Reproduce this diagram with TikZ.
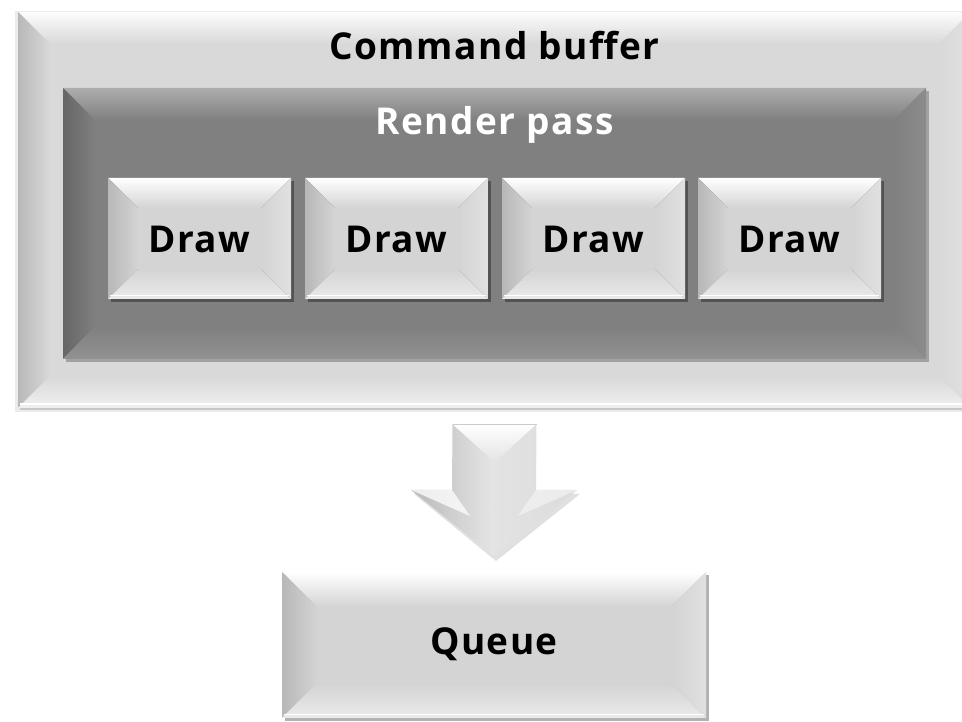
\documentclass[tikz,border=0pt]{standalone}
\usepackage{fontspec}
\setmainfont{Open Sans}[LetterSpace=4]
\usetikzlibrary{calc}

% grey levels of the bevelled facets
\definecolor{outFace}{gray}{0.85}
\definecolor{outTop}{gray}{0.99}
\definecolor{outLeft}{gray}{0.72}
\definecolor{outBot}{gray}{0.94}
\definecolor{outRight}{gray}{0.88}
\definecolor{inFace}{gray}{0.50}
\definecolor{inTop}{gray}{0.68}
\definecolor{inLeft}{gray}{0.40}
\definecolor{inBot}{gray}{0.57}
\definecolor{inRight}{gray}{0.55}
\definecolor{keyFace}{gray}{0.83}
\definecolor{keyTop}{gray}{1.0}
\definecolor{keyLeft}{gray}{0.72}
\definecolor{keyBot}{gray}{0.92}
\definecolor{keyRight}{gray}{0.88}

\tikzset{
  box/.style={rectangle, inner sep=0pt, outer sep=0pt},
  lbl/.style={font=\fontsize{37}{42}\selectfont\bfseries, inner sep=0pt, anchor=base},
}

% bevelled panel drawn around a named node:
% #1 node, #2 bevel depth, #3 face, #4 top, #5 left, #6 bottom, #7 right
\newcommand\bevelbox[7]{%
  \path (#1.north west) coordinate (bvA) (#1.north east) coordinate (bvB)
        (#1.south east) coordinate (bvC) (#1.south west) coordinate (bvD);
  \path ($(bvA)+(#2,-#2)$) coordinate (bva) ($(bvB)+(-#2,-#2)$) coordinate (bvb)
        ($(bvC)+(-#2,#2)$) coordinate (bvc) ($(bvD)+(#2,#2)$) coordinate (bvd);
  \fill[#3] (bva) rectangle (bvc);
  \shade[top color=#4, bottom color=#3] (bvA)--(bvB)--(bvb)--(bva)--cycle;
  \shade[left color=#5, right color=#3] (bvA)--(bva)--(bvd)--(bvD)--cycle;
  \shade[top color=#3, bottom color=#6] (bvd)--(bvc)--(bvC)--(bvD)--cycle;
  \shade[left color=#3, right color=#7] (bvb)--(bvB)--(bvC)--(bvc)--cycle;
}
% soft offset shadow behind a named node
\newcommand\boxshadow[3]{%
  \fill[black, opacity=#3] ($(#1.north west)+(#2,-#2)$) rectangle ($(#1.south east)+(#2,-#2)$);
}

\begin{document}
\begin{tikzpicture}[x=1pt, y=1pt]
\useasboundingbox (0,0) rectangle (962,722);
\clip (0,0) rectangle (962,722);
\fill[white] (0,0) rectangle (962,722);

% command buffer frame
\node[box, minimum width=953, minimum height=396] (cmdbuf) at (494.5,512) {};
\fill[black, opacity=0.08] ($(cmdbuf.north west)+(-3,1)$) rectangle ($(cmdbuf.south east)+(3,-4)$);
\boxshadow{cmdbuf}{2}{0.15}
\bevelbox{cmdbuf}{32}{outFace}{outTop}{outLeft}{outBot}{outRight}
\draw[white, line width=1.2] ($(cmdbuf.south west)+(2,4)$) -- ($(cmdbuf.south east)+(-2,4)$);
\node[lbl] (cmdtitle) at (494.5,662) {Command buffer};

% render pass panel
\node[box, minimum width=863, minimum height=271] (pass) at (494.5,498.5) {};
\boxshadow{pass}{3}{0.25}
\bevelbox{pass}{32}{inFace}{inTop}{inLeft}{inBot}{inRight}
\node[lbl, text=white] (passtitle) at (494.5,587) {Render pass};

% draw calls
\foreach \i/\cx in {1/199.5, 2/396.5, 3/593.5, 4/789.5} {
  \node[box, minimum width=183, minimum height=121] (draw\i) at (\cx,483.5) {};
  \boxshadow{draw\i}{3}{0.35}
  \bevelbox{draw\i}{30}{keyFace}{keyTop}{keyLeft}{keyBot}{keyRight}
  \draw[white, line width=1] ($(draw\i.south west)+(2,3)$) -- ($(draw\i.south east)+(-2,3)$);
  \node[lbl] (drawlbl\i) at (\cx,469) {Draw};
}

% queue
\node[box, minimum width=424, minimum height=146] (queue) at (494,77) {};
\boxshadow{queue}{3}{0.3}
\bevelbox{queue}{35}{keyFace}{keyTop}{keyLeft}{keyBot}{keyRight}
\draw[white, line width=1] ($(queue.south west)+(2,3)$) -- ($(queue.south east)+(-2,3)$);
\node[lbl] (queuelbl) at (494,67) {Queue};

% block arrow from the command buffer down to the queue
\coordinate (aTop) at ($(cmdbuf.south)+(0,-16)$);
\coordinate (aTip) at ($(queue.north)+(0,16)$);
\coordinate (sL) at ($(aTop)+(-42,0)$);
\coordinate (sR) at ($(aTop)+(42,0)$);
\coordinate (aV) at ($(aTop)+(0,-38)$);
\coordinate (nL) at ($(aTip)+(-42,66)$);
\coordinate (nR) at ($(aTip)+(42,66)$);
\coordinate (wL) at ($(aTip)+(-83,66)$);
\coordinate (wR) at ($(aTip)+(83,66)$);
\coordinate (aMid) at ($(aTip)+(0,48)$);
% shadow under the head
\fill[black, opacity=0.12] ($(wL)+(3,-4)$) -- ($(nL)+(3,-4)$) -- ($(nR)+(3,-4)$) -- ($(wR)+(3,-4)$) -- ($(aTip)+(2,-5)$) -- cycle;
% left half
\shade[left color=gray!55!white, right color=gray!20!white]
  (sL) -- (aV) -- (aTip) -- (wL) -- (nL) -- cycle;
% right half
\shade[left color=gray!22!white, right color=gray!28!white]
  (sR) -- (aV) -- (aTip) -- (wR) -- (nR) -- cycle;
% top facet of the shaft
\shade[top color=white, bottom color=gray!22!white] (sL) -- (sR) -- (aV) -- cycle;
% upper facets of the wings
\fill[white, opacity=0.75] (wL) -- (nL) -- ($(aMid)+(-24,-8)$) -- cycle;
\fill[white, opacity=0.45] (wR) -- (nR) -- ($(aMid)+(24,-8)$) -- cycle;
\draw[gray!40!white, line width=0.6] (sL) -- (sR);
\end{tikzpicture}
\end{document}
